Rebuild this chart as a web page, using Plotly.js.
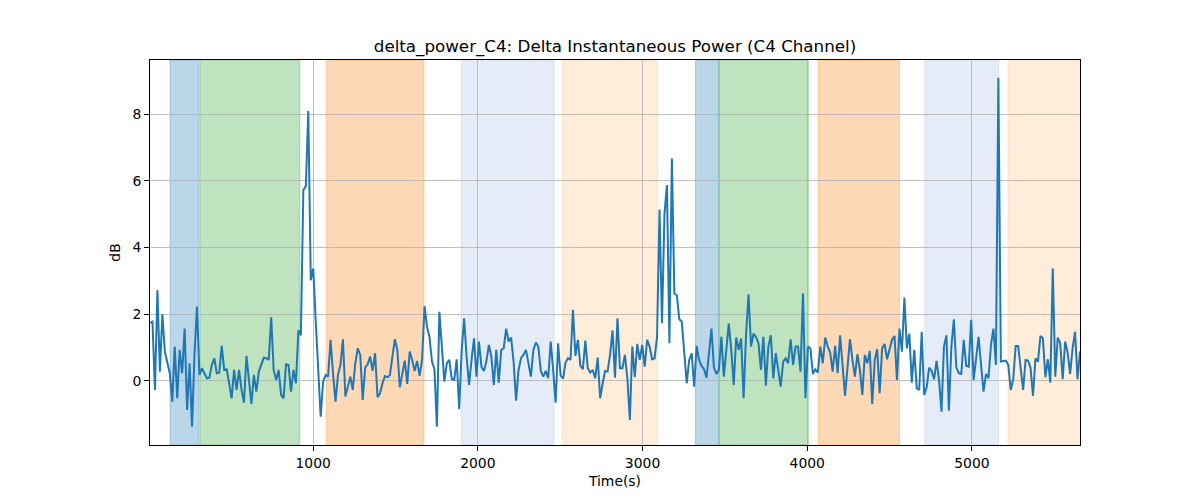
<!DOCTYPE html>
<html>
<head>
<meta charset="utf-8">
<script src="https://cdn.plot.ly/plotly-3.0.1.min.js"></script>
<style>html,body{margin:0;padding:0;background:#fff;}#chart{width:1200px;height:500px;}</style>
</head>
<body>
<div id="chart"></div>
<script>
// Sampling grid of the recording (seconds)
const sampleStart = 9;
const samplePeriod = 15.02;

// delta power values (dB), read in order from the picture
const segA = [1.74,1.78,-0.27,2.72,0.28,2.0,0.88,0.58,0.23,-0.62,1.03,-0.52,0.93,0.23,1.57,-0.87,0.53,-1.37,0.83,2.23,0.18,0.38,0.23,0.08,0.1,0.48,0.68,0.23,0.25,1.05,0.33,0.35,-0.07,-0.52,0.33,-0.27,0.33,-0.27,-0.65,0.75,0.03,-0.69,0.18,-0.32,0.28,0.48,0.70,0.68,0.63,1.91,0.33,0.03,0.33,-0.42,-0.52,0.5,0.48,-0.32,0.33,-0.07,1.52,1.37,5.72,5.84,8.09,3.02,3.37,1.8,0.4,-1.07];
const segB = [-0.02,0.18,0.13,1.23,0.23,-0.62,0.18,0.48,1.25,-0.47,-0.17,0.13,-0.27,0.53,0.98,0.78,-0.57,0.4,0.5,0.73,0.3,0.83,-0.49,-0.37,-0.07,0.15,0.11,0.18,0.73,1.25,0.93,-0.19,0.21,0.61,-0.09,0.88,0.63,0.3,0.6,0.15,0.63,2.24,1.62,1.32,0.58,0.35,-1.37,2.07,1.03,-0.02,0.53,0.63,0.06,0.03,0.65];
const segC = [-0.85,0.9,1.88,0.73,-0.12,0.63,1.28,0.13,1.18,0.43,0.3,0.58,1.08,0.73,-0.12,0.93,-0.05,0.93,0.98,1.57,1.18,1.3,0.58,-0.59,0.33,0.68,0.78,0.93,0.53,0.13,0.93,1.15,1.03,0.3,0.13,0.3,0.08,1.18,0.33,-0.65,1.13,0.16,0.07,0.55,0.68,0.63,2.13,0.75,1.23,0.45,0.35,1.21,0.38,0.25,0.33,0.08,0.7,-0.52,-0.07,0.3,0.28,0.78,1.52,0.1,1.88];
const segD = [0.38,0.38,0.78,0.08,-1.17,1.03,0.11,1.11,0.63,1.08,0.43,1.23,1.03,0.65,0.68,1.32,5.14,1.73,5.0,5.87,1.13,6.67,2.62,2.57,1.85,1.78,0.73,-0.07,0.63,0.83,-0.17,1.05,0.63,0.45,0.35,0.1,0.83,1.57,0.4,0.21,0.33,1.32,0.13,0.88,1.72,0.93,-0.12,1.3,0.93,1.27,-0.52,1.42,2.6,1.03,1.42,1.32,1.13,0.33,1.32,-0.14,1.03,1.37];
const segE = [0.08,0.83,0.38,-0.17,0.58,0.68,0.53,1.25,0.48,1.03,1.03,0.28,2.62,-0.52,1.03,0.98,0.21,0.35,0.25,1.03,0.53,1.3,1.03,0.85,0.28,1.05,0.23,1.37,0.48,-0.45,0.4,1.25,0.63,0.13,0.8,0.33,-0.42,0.78,0.53,0.9,-0.69,0.63,0.95,-0.37,0.98,1.11,0.65,0.93,1.23,1.35,0.03,1.57,0.88,2.5,0.98,1.42,-0.05,0.93,-0.22,-0.27,1.47,-0.42];
const segF = [-0.2,0.4,0.3,0.05,0.6,0.03,-0.92,1.03,1.37,-0.89,1.03,1.85,0.4,0.23,0.21,1.23,0.45,0.43,1.83,0.03,0.7,1.32,0.48,-0.32,0.21,0.08,1.08,1.57,0.48,9.09,0.58,0.6,0.61,0.48,-0.27,0.05,1.05,1.05,0.33,-0.27,0.63,0.61,0.4,-0.45,0.68,0.58,1.35,1.28,0.11,0.65,-0.05,3.37,0.13,1.3,1.13,0.05,1.18,0.85,0.21,0.98,1.47,0.05,0.88];

// Shaded stage intervals (seconds) and their kinds
const spanStart = [131, 313, 1079, 1900, 2514, 3322, 3464, 4066, 4714, 5219];
const spanEnd   = [307, 919, 1673, 2463, 3091, 3464, 4007, 4560, 5162, 5663];
const spanKind  = ["blue","green","orange","lightblue","lightorange","blue","green","orange","lightblue","lightorange"];

const kindColor = {
  blue: "rgba(31,119,180,0.3)",
  green: "rgba(44,160,44,0.3)",
  orange: "rgba(255,127,14,0.3)",
  lightblue: "rgba(70,120,200,0.14)",
  lightorange: "rgba(255,140,30,0.17)"
};

const values = segA.concat(segB, segC, segD, segE, segF);
const times = values.map((v, i) => sampleStart + i * samplePeriod);

const shapes = spanStart.map((s, i) => ({
  type: "rect", xref: "x", yref: "paper",
  x0: s, x1: spanEnd[i], y0: 0, y1: 1,
  fillcolor: kindColor[spanKind[i]],
  line: {color: kindColor[spanKind[i]], width: 1},
  layer: "below"
}));

const font = "DejaVu Sans, sans-serif";

const trace = {
  x: times, y: values, type: "scatter", mode: "lines",
  line: {color: "#1f77b4", width: 2},
  hoverinfo: "skip"
};

const layout = {
  width: 1200, height: 500,
  margin: {l: 150, r: 120, t: 60, b: 55},
  paper_bgcolor: "#fff", plot_bgcolor: "#fff",
  showlegend: false,
  font: {family: font, color: "#000"},
  title: {
    text: "delta_power_C4: Delta Instantaneous Power (C4 Channel)",
    font: {family: font, size: 16.7, color: "#000"},
    x: 0.5125, xanchor: "center", y: 0.908, yanchor: "middle", yref: "container"
  },
  xaxis: {
    range: [times[0], times[times.length - 1]],
    tickvals: [1000, 2000, 3000, 4000, 5000],
    ticktext: ["1000", "2000", "3000", "4000", "5000"],
    showgrid: true, gridcolor: "#b0b0b0", gridwidth: 0.8,
    zeroline: false,
    showline: true, mirror: true, linecolor: "#000", linewidth: 1,
    ticks: "outside", ticklen: 5, tickwidth: 1, tickcolor: "#000",
    tickfont: {family: font, size: 13.9, color: "#000"},
    title: {text: "Time(s)", font: {family: font, size: 13.9, color: "#000"}, standoff: 6}
  },
  yaxis: {
    range: [-1.92, 9.62],
    tickvals: [0, 2, 4, 6, 8],
    ticktext: ["0", "2", "4", "6", "8"],
    showgrid: true, gridcolor: "#b0b0b0", gridwidth: 0.8,
    zeroline: false,
    showline: true, mirror: true, linecolor: "#000", linewidth: 1,
    ticks: "outside", ticklen: 5, tickwidth: 1, tickcolor: "#000",
    tickfont: {family: font, size: 13.9, color: "#000"},
    title: {text: "dB", font: {family: font, size: 13.9, color: "#000"}, standoff: 8}
  },
  shapes: shapes
};

Plotly.newPlot("chart", [trace], layout, {staticPlot: true, displayModeBar: false});
</script>
</body>
</html>
